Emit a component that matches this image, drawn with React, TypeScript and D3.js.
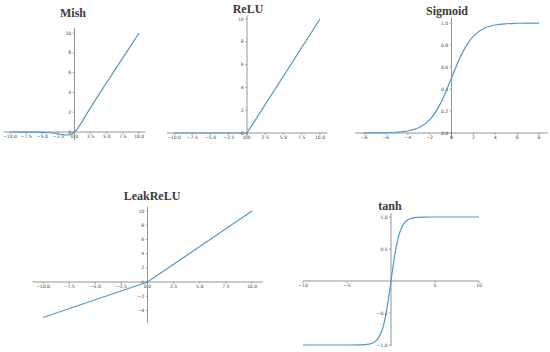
import React from 'react';
import * as d3 from 'd3';

const mishX = [-10, -8, -6, -4, -3, -2, -1.5, -1, -0.5, 0, 0.5, 1, 2, 4, 6, 8, 10];
const mishY = [0, -0.003, -0.015, -0.073, -0.146, -0.253, -0.298, -0.303, -0.221, 0, 0.375, 0.865, 1.944, 3.997, 6, 8, 10];

const reluX = [-10, 0, 10];
const reluY = [0, 0, 10];

const sigmoidX = [-8, -7, -6, -5, -4, -3, -2, -1, 0, 1, 2, 3, 4, 5, 6, 7, 8];
const sigmoidY = [0.0003, 0.0009, 0.0025, 0.0067, 0.018, 0.047, 0.119, 0.269, 0.5, 0.731, 0.881, 0.953, 0.982, 0.9933, 0.9975, 0.9991, 0.9997];

const leakX = [-10, 0, 10];
const leakY = [-5, 0, 10];

const tanhX = [-10, -5, -4, -3, -2.5, -2, -1.5, -1, -0.75, -0.5, -0.25, 0, 0.25, 0.5, 0.75, 1, 1.5, 2, 2.5, 3, 4, 5, 10];
const tanhY = [-1, -0.9999, -0.9993, -0.995, -0.987, -0.964, -0.905, -0.762, -0.635, -0.462, -0.245, 0, 0.245, 0.462, 0.635, 0.762, 0.905, 0.964, 0.987, 0.995, 0.9993, 0.9999, 1];

// tick values
const ticksTen = [-10, -7.5, -5, -2.5, 0, 2.5, 5, 7.5, 10];
const ticksTenY = [0, 2, 4, 6, 8, 10];
const sigmoidTicksX = [-8, -6, -4, -2, 0, 2, 4, 6, 8];
const sigmoidTicksY = [0, 0.2, 0.4, 0.6, 0.8, 1.0];
const leakTicksY = [-4, -2, 0, 2, 4, 6, 8, 10];
const tanhTicksX = [-10, -5, 5, 10];
const tanhTicksY = [-1, -0.5, 0.5, 1];

const lineColor = '#5597c9';
const axisColor = '#7a7a7a';
const textColor = '#4a4a4a';

const panels = [
    {
        title: 'Mish', xs: mishX, ys: mishY,
        xd: [-10, 10], xr: [10, 139], yd: [0, 10], yr: [132, 33],
        spineX: [-11, 11], spineY: [-0.85, 10.5],
        ticksX: ticksTen, ticksY: ticksTenY, fx: '.1f', fy: 'd',
        titlePos: [73, 16.5], curve: d3.curveMonotoneX
    },
    {
        title: 'ReLU', xs: reluX, ys: reluY,
        xd: [-10, 10], xr: [174, 320], yd: [0, 10], yr: [133, 19],
        spineX: [-11, 11], spineY: [-0.5, 10.3],
        ticksX: ticksTen, ticksY: ticksTenY, fx: '.1f', fy: 'd',
        titlePos: [248, 13], curve: d3.curveLinear
    },
    {
        title: 'Sigmoid', xs: sigmoidX, ys: sigmoidY,
        xd: [-8, 8], xr: [364, 539], yd: [0, 1], yr: [133, 23],
        spineX: [-8.8, 8.8], spineY: [-0.05, 1.05],
        ticksX: sigmoidTicksX, ticksY: sigmoidTicksY, fx: 'd', fy: '.1f',
        titlePos: [447, 15], curve: d3.curveCatmullRom
    },
    {
        title: 'LeakReLU', xs: leakX, ys: leakY,
        xd: [-10, 10], xr: [43, 252], yd: [0, 10], yr: [282, 211],
        spineX: [-11, 11], spineY: [-5.75, 10.6],
        ticksX: ticksTen, ticksY: leakTicksY, fx: '.1f', fy: 'd',
        titlePos: [152, 200], curve: d3.curveLinear
    },
    {
        title: 'tanh', xs: tanhX, ys: tanhY,
        xd: [-10, 10], xr: [303, 479], yd: [-1, 1], yr: [345, 217],
        spineX: [-10, 10], spineY: [-1.02, 1.06],
        ticksX: tanhTicksX, ticksY: tanhTicksY, fx: 'd', fy: '.1f',
        titlePos: [390, 210], curve: d3.curveCatmullRom
    }
];

function Panel({ p }: { p: any }) {
    const x = d3.scaleLinear().domain(p.xd).range(p.xr);
    const y = d3.scaleLinear().domain(p.yd).range(p.yr);
    const x0 = x(0), y0 = y(0);
    const fmtX = d3.format(p.fx), fmtY = d3.format(p.fy);
    const pts = p.xs.map((v: number, i: number) => [v, p.ys[i]]);
    const line = d3.line<number[]>().x(d => x(d[0])).y(d => y(d[1])).curve(p.curve);

    return (
        <g>
            <text x={p.titlePos[0]} y={p.titlePos[1]} textAnchor="middle" fontFamily="Liberation Serif, serif"
                fontWeight="bold" fontSize={12} fill="#3a3a3a">{p.title}</text>
            {/* spines through the origin */}
            <line x1={x(p.spineX[0])} x2={x(p.spineX[1])} y1={y0} y2={y0} stroke={axisColor} strokeWidth={0.8} />
            <line x1={x0} x2={x0} y1={y(p.spineY[0])} y2={y(p.spineY[1])} stroke={axisColor} strokeWidth={0.8} />
            {p.ticksX.map((t: number) => (
                <g key={'x' + t}>
                    <line x1={x(t)} x2={x(t)} y1={y0} y2={y0 + 2} stroke={axisColor} strokeWidth={0.6} />
                    <text x={x(t)} y={y0 + 6.3} textAnchor="middle" fontFamily="DejaVu Sans, sans-serif"
                        fontSize={4.6} fill={textColor}>{fmtX(t)}</text>
                </g>
            ))}
            {p.ticksY.map((t: number) => (
                <g key={'y' + t}>
                    <line x1={x0 - 2} x2={x0} y1={y(t)} y2={y(t)} stroke={axisColor} strokeWidth={0.6} />
                    <text x={x0 - 3.2} y={y(t) + 1.6} textAnchor="end" fontFamily="DejaVu Sans, sans-serif"
                        fontSize={4.6} fill={textColor}>{fmtY(t)}</text>
                </g>
            ))}
            <path d={line(pts) || ''} fill="none" stroke={lineColor} strokeWidth={1.2} />
        </g>
    );
}

export default function App() {
    return (
        <svg width={550} height={352} style={{ position: 'absolute', left: 0, top: 0, background: '#fff' }}>
            <rect width={550} height={352} fill="#fff" />
            {panels.map(p => <Panel key={p.title} p={p} />)}
        </svg>
    );
}
